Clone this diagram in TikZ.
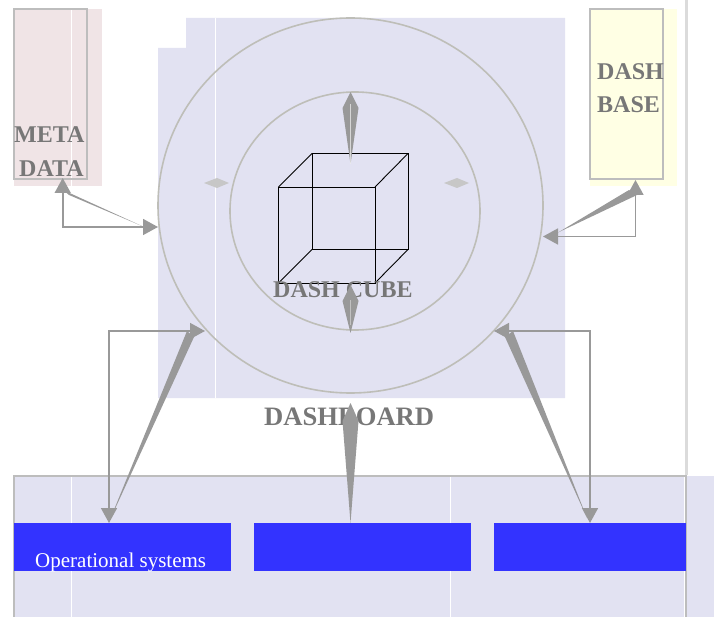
\documentclass[tikz,border=0pt]{standalone}
\usepackage{fontspec}
\setmainfont{Liberation Serif}
\usetikzlibrary{arrows.meta,calc,shapes.geometric}
\definecolor{panelblue}{HTML}{E2E2F2}
\definecolor{metapink}{HTML}{F0E4E6}
\definecolor{baseyellow}{HTML}{FFFFE4}
\definecolor{edgegray}{HTML}{BDBDBD}
\definecolor{ringgray}{HTML}{BEBEB8}
\definecolor{arrowgray}{HTML}{999999}
\definecolor{labelgray}{HTML}{777777}
\definecolor{barblue}{HTML}{3333FF}
\tikzset{
  block/.style={anchor=north west,inner sep=0pt,outer sep=0pt},
  outline/.style={block,draw=edgegray,line width=1.6pt},
  ring/.style={ellipse,draw=ringgray,line width=1.6pt,inner sep=0pt},
  boxlabel/.style={anchor=base west,inner sep=0pt,text=labelgray,font=\bfseries\fontsize{24}{24}\selectfont},
  elbow/.style={draw=arrowgray,line width=1.6pt,{Stealth[length=15pt,width=16pt,inset=0pt]}-{Stealth[length=15pt,width=16pt,inset=0pt]}},
  seam/.style={white,line width=0.6pt},
}
\newcommand{\spike}[5]{\fill[#5] (#1) -- ($(#2)!#3pt!(#1)!#4pt!90:(#1)$) -- (#2) -- ($(#2)!#3pt!(#1)!-#4pt!90:(#1)$) -- cycle;}
\begin{document}
\begin{tikzpicture}[x=1pt,y=-1pt]
\useasboundingbox (0,0) rectangle (717,617);

% storage boxes
\node[block,fill=metapink,minimum width=88pt,minimum height=177pt] (metafill) at (14,9) {};
\node[block,fill=baseyellow,minimum width=87pt,minimum height=177pt] (basefill) at (590,9) {};
\draw[seam] (71.5,9) -- (71.5,186);
\node[outline,minimum width=73pt,minimum height=170pt] (metabox) at (14,9) {};
\node[outline,minimum width=73pt,minimum height=170pt] (basebox) at (590,9) {};

% dashboard area
\fill[panelblue] (186,18) -- (565,18) -- (565,398) -- (158,398) -- (158,48) -- (186,48) -- cycle;
\draw[seam] (215,18) -- (215,398);
\node[ring,minimum width=385pt,minimum height=375pt] (outerring) at (350.5,205.5) {};
\node[ring,minimum width=250pt,minimum height=238pt] (innerring) at (355,211) {};

% bottom panel
\fill[panelblue] (14,476) rectangle (714,617);
\foreach \x in {71.5,450,684}
\draw[seam] (\x,476) -- (\x,617);
\draw[edgegray,line width=1.6pt] (14,617) -- (14,476) -- (686,476) -- (686,617);
\draw[draw=black!14,line width=3.5pt] (686.5,0) -- (686.5,475);
\node[block,fill=barblue,minimum width=217pt,minimum height=48pt] (opsysa) at (14,523) {};
\node[block,fill=barblue,minimum width=217pt,minimum height=48pt] (opsysb) at (254,523) {};
\node[block,fill=barblue,minimum width=192pt,minimum height=48pt] (opsysc) at (494,523) {};

% cube
\coordinate (fnw) at (278.5,187);
\coordinate (fne) at (375,187);
\coordinate (fse) at (375,283);
\coordinate (fsw) at (278.5,283);
\coordinate (bnw) at (312,153.5);
\coordinate (bne) at (408,153.5);
\coordinate (bse) at (408,249.5);
\coordinate (bsw) at (312,249.5);
\draw[black,line width=0.9pt] (fnw) -- (fne) -- (fse) -- (fsw) -- cycle;
\draw[black,line width=0.9pt] (bnw) -- (bne) -- (bse) -- (bsw) -- cycle;
\foreach \a/\b in {fnw/bnw,fne/bne,fse/bse,fsw/bsw}
\draw[black,line width=0.9pt] (\a) -- (\b);

% labels
\node[boxlabel] (metalabel) at (14,143) {META};
\node[boxlabel] (datalabel) at (19,177) {DATA};
\node[boxlabel] (dashlabel) at (597,80) {DASH};
\node[boxlabel] (baselabel) at (597,113) {BASE};
\node[boxlabel] (cubelabel) at (273,298) {DASH CUBE};
\node[boxlabel,font=\bfseries\fontsize{26.6}{26.6}\selectfont] (boardlabel) at (264,425) {DASHBOARD};
\node[anchor=base west,inner sep=0pt,text=white,font=\fontsize{21}{21}\selectfont] (opsyslabel) at (35,567) {Operational systems};

% arrows around the inner ring
\coordinate (toptail) at (350.5,164);
\coordinate (toptip) at (350.5,92);
\coordinate (lowtail) at (350.5,333);
\coordinate (lowtip) at (350.5,285);
\coordinate (boardtail) at (350.5,523);
\coordinate (boardtip) at (350.5,403);
\coordinate (lefttail) at (204,183);
\coordinate (lefttip) at (229,183);
\coordinate (righttail) at (444,183);
\coordinate (righttip) at (469,183);
\spike{toptail}{toptip}{16}{8}{arrowgray}
\spike{lowtail}{lowtip}{16}{8}{arrowgray}
\spike{boardtail}{boardtip}{18}{8}{arrowgray}
\spike{lefttail}{lefttip}{12}{5}{black!22}
\spike{righttail}{righttip}{12}{5}{black!22}
\draw[white,line width=0.7pt,opacity=0.6] (350.5,104) -- (toptail);
\draw[white,line width=0.7pt,opacity=0.4] (350.5,300) -- (350.5,325);

% elbows with their wedges
\coordinate (metatip) at (62.7,178);
\coordinate (metain) at (158,227);
\coordinate (basetip) at (635.5,180);
\coordinate (basein) at (543,236.5);
\coordinate (opaout) at (109,523);
\coordinate (opain) at (205,331);
\coordinate (opcout) at (590,523);
\coordinate (opcin) at (494,331);
\coordinate (metatail) at (143,226.5);
\coordinate (metaneckA) at (63,190);
\coordinate (metaneckB) at (69,195);
\coordinate (basetail) at (558,232.5);
\coordinate (baseneckA) at (629,190);
\coordinate (baseneckB) at (637,195);
\coordinate (opatail) at (109,522);
\coordinate (opaneckA) at (187,331);
\coordinate (opaneckB) at (194,337);
\coordinate (opctail) at (587,518);
\coordinate (opcneckA) at (513,331);
\coordinate (opcneckB) at (505,337);
\draw[elbow] (metatip) |- (metain);
\draw[elbow] (basetip) |- (basein);
\draw[elbow] (opaout) |- (opain);
\draw[elbow] (opcout) |- (opcin);
\fill[arrowgray] (metatail) -- (metaneckA) -- (metaneckB) -- cycle;
\fill[arrowgray] (basetail) -- (baseneckA) -- (baseneckB) -- cycle;
\fill[arrowgray] (opatail) -- (opaneckA) -- (opaneckB) -- cycle;
\fill[arrowgray] (opctail) -- (opcneckA) -- (opcneckB) -- cycle;
\end{tikzpicture}
\end{document}
